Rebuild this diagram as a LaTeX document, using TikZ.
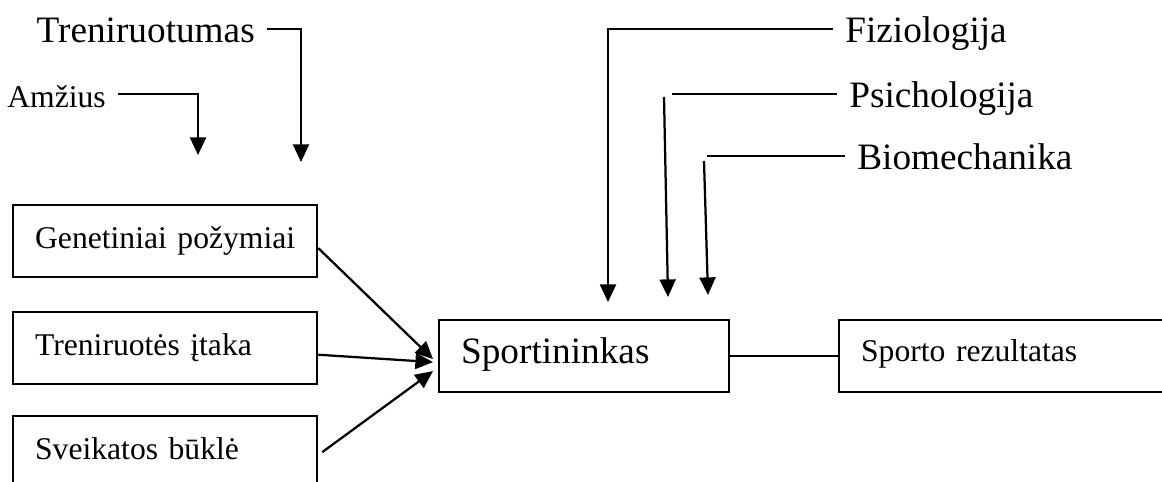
\documentclass[tikz,border=0pt]{standalone}
\usepackage{fontspec}
\setmainfont{Liberation Serif}
\usetikzlibrary{arrows.meta, positioning, calc}

\begin{document}
\begin{tikzpicture}[
  fbox/.style={draw, line width=1.6pt, anchor=north west, minimum height=1.8cm,
    align=left, inner xsep=0.55cm, text height=0.625cm, text depth=0.275cm,
    font=\fontsize{22.5}{27}\selectfont},
  lab/.style={inner xsep=0.3cm, inner ysep=0pt, text height=0.8cm, text depth=0.1cm,
    font=\fontsize{26.5}{32}\selectfont},
  labsmall/.style={lab, font=\fontsize{22.5}{27}\selectfont},
  conn/.style={line width=1.6pt},
  arr/.style={conn, -{Triangle[length=0.44cm, width=0.4cm]}}
]
  \useasboundingbox (0,0) rectangle (29.05,12.05);

  % factor boxes
  \node[fbox, text width=6.5cm] (gen) at (0.3,6.95) {Genetiniai požymiai};
  \node[fbox, text width=6.5cm] (tri) at (0.3,4.275) {Treniruotės įtaka};
  \node[fbox, text width=6.5cm] (sve) at (0.3,1.675) {Sveikatos būklė};

  \node[fbox, text width=6.15cm, font=\fontsize{26.5}{32}\selectfont] (sport) at (10.95,4.075) {Sportininkas};
  \node[fbox, text width=7.1cm, text height=0.575cm, text depth=0.325cm] (res) at (20.95,4.075) {Sporto rezultatas};

  % labels
  \node[lab, anchor=east] (trum) at (6.675,11.325) {Treniruotumas};
  \node[labsmall, anchor=east] (amz) at (2.95,9.7) {Amžius};
  \node[lab, anchor=west] (fiz) at (20.825,11.325) {Fiziologija};
  \node[lab, anchor=west] (psi) at (20.925,9.7) {Psichologija};
  \node[lab, anchor=west] (bio) at (21.125,8.15) {Biomechanika};

  % arrow ends
  \coordinate (trumT) at (7.525,8.0);
  \coordinate (amzT) at (4.95,8.175);
  \coordinate (fizT) at (15.2,4.5);
  \coordinate (psiA) at (16.8,9.7);
  \coordinate (psiB) at (16.6,9.625);
  \coordinate (psiT) at (16.7,4.625);
  \coordinate (bioA) at (17.675,8.15);
  \coordinate (bioB) at (17.6,8.025);
  \coordinate (bioT) at (17.7,4.675);

  \draw[arr] (trum.east) -| (trumT);
  \draw[arr] (amz.east) -| (amzT);
  \draw[arr] (fiz.west) -| (fizT);
  \draw[conn] (psi.west) -- (psiA);
  \draw[arr] (psiB) -- (psiT);
  \draw[conn] (bio.west) -- (bioA);
  \draw[arr] (bioB) -- (bioT);

  \draw[arr] ([yshift=-0.175cm]gen.east) -- ([xshift=-0.125cm, yshift=-0.075cm]sport.west);
  \draw[arr] ([yshift=-0.165cm]tri.east) -- ([xshift=-0.125cm, yshift=-0.15cm]sport.west);
  \draw[arr] ([xshift=0.1cm]sve.east) -- ([xshift=-0.125cm, yshift=-0.375cm]sport.west);

  \draw[conn] (sport.east) -- (res.west);

\end{tikzpicture}
\end{document}
